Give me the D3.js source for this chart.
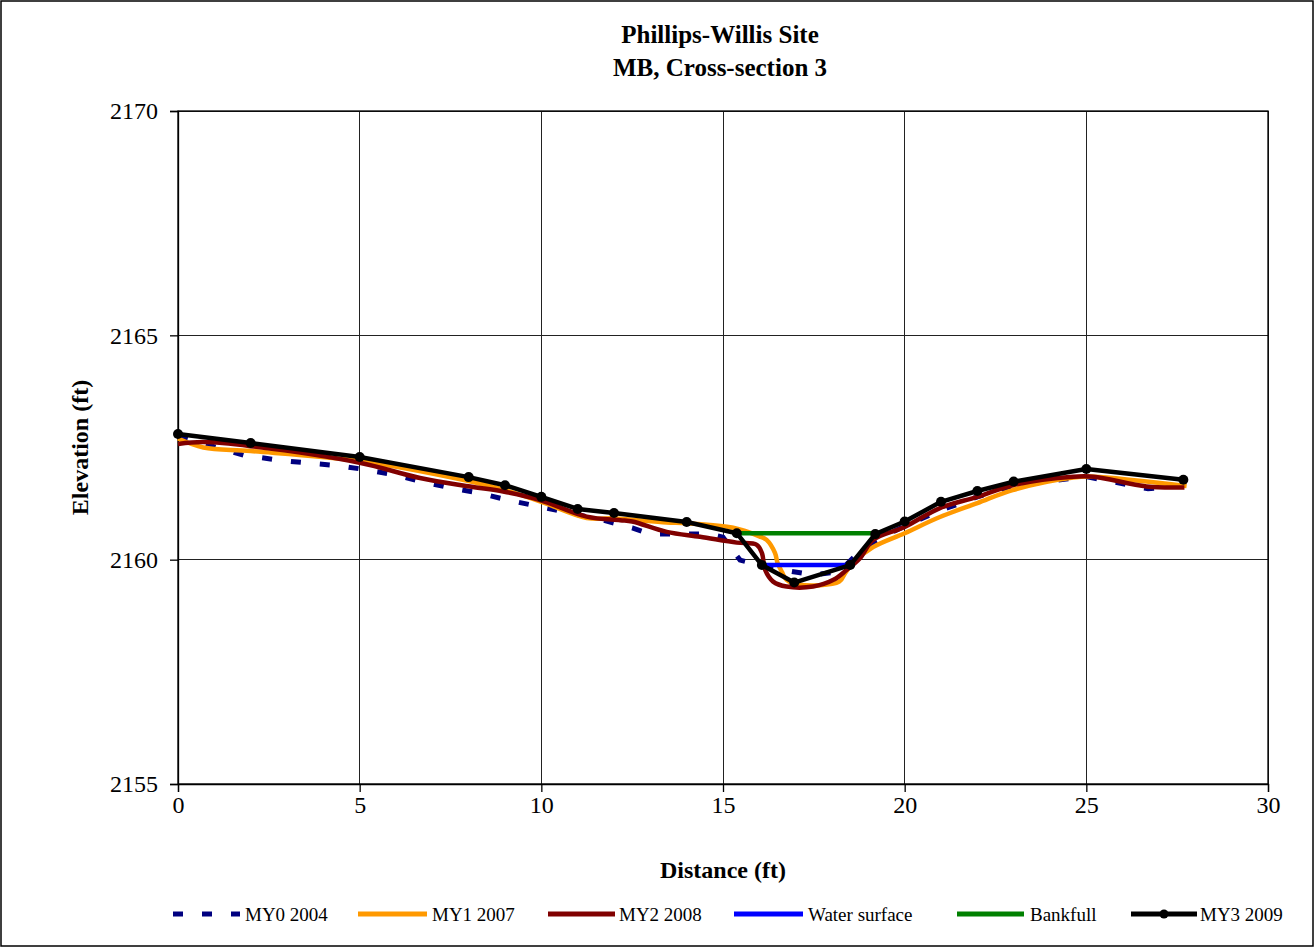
<!DOCTYPE html>
<html>
<head>
<meta charset="utf-8">
<script src="https://cdn.jsdelivr.net/npm/d3@7"></script>
<style>
  html, body { margin: 0; padding: 0; background: #fff; }
  svg { display: block; }
  text { font-family: "Liberation Serif", "Times New Roman", serif; fill: #000; }
</style>
</head>
<body>
<svg id="chart" width="1314" height="947"></svg>
<script>
// ---------- data ----------
const titleLines = ["Phillips-Willis Site", "MB, Cross-section 3"];
const xTicks = [0, 5, 10, 15, 20, 25, 30];
const yTicks = [2155, 2160, 2165, 2170];

const my0X = [0, 1.8, 2.85, 3.63, 4.46, 5.05, 5.84, 6.66, 7.49, 8.26, 9.18, 10.15, 11.7, 12.5, 13, 14.64, 15.0, 15.47, 16.0, 16.65, 17.48, 18.2, 18.85, 19.5, 20, 21, 22, 23, 25, 26.7, 27.7];
const my0Y = [2162.75, 2162.33, 2162.21, 2162.15, 2162.09, 2162.02, 2161.91, 2161.75, 2161.60, 2161.49, 2161.31, 2161.15, 2160.88, 2160.71, 2160.57, 2160.57, 2160.50, 2159.99, 2159.88, 2159.77, 2159.66, 2159.73, 2160.26, 2160.55, 2160.75, 2161.10, 2161.40, 2161.65, 2161.85, 2161.58, 2161.65];

const my1X = [0, 0.7, 2, 5, 7.84, 9, 10, 11.25, 12, 12.5, 13.45, 14, 15.28, 16.0, 16.2, 16.43, 16.5, 16.62, 16.75, 17.1, 18.2, 18.36, 18.58, 19.13, 20, 20.97, 22, 22.97, 24.64, 25.2, 27.76];
const my1Y = [2162.70, 2162.50, 2162.42, 2162.20, 2161.78, 2161.55, 2161.29, 2160.93, 2160.92, 2160.89, 2160.83, 2160.81, 2160.71, 2160.52, 2160.44, 2160.15, 2159.93, 2159.73, 2159.55, 2159.44, 2159.51, 2159.70, 2159.93, 2160.28, 2160.59, 2160.95, 2161.26, 2161.55, 2161.83, 2161.85, 2161.64];

const my2X = [0, 0.7, 2, 5, 6.66, 8.04, 8.95, 9.96, 11.25, 12.17, 12.5, 13.45, 14.37, 15.38, 15.93, 16.07, 16.16, 16.38, 16.75, 17.48, 18.04, 18.4, 18.77, 19.13, 20, 20.97, 22, 22.97, 24.64, 25.2, 26.66, 27.7];
const my2Y = [2162.58, 2162.62, 2162.53, 2162.16, 2161.82, 2161.63, 2161.52, 2161.33, 2160.96, 2160.88, 2160.85, 2160.62, 2160.51, 2160.38, 2160.33, 2160.15, 2159.77, 2159.51, 2159.40, 2159.40, 2159.55, 2159.77, 2160.03, 2160.44, 2160.73, 2161.15, 2161.40, 2161.66, 2161.85, 2161.85, 2161.63, 2161.61];

const waterX = [16.1, 18.44];
const waterY = [2159.88, 2159.88];

const bankX = [15.38, 19.19];
const bankY = [2160.59, 2160.59];

const my3X = [0, 2, 5, 8, 9, 10, 11, 12, 14, 15.38, 16.07, 16.96, 18.5, 19.19, 20, 21, 22, 23, 25, 27.67];
const my3Y = [2162.80, 2162.60, 2162.29, 2161.84, 2161.66, 2161.40, 2161.13, 2161.04, 2160.84, 2160.59, 2159.88, 2159.49, 2159.88, 2160.57, 2160.85, 2161.29, 2161.53, 2161.74, 2162.02, 2161.78];

const seriesNames = ["MY0 2004", "MY1 2007", "MY2 2008", "Water surface", "Bankfull", "MY3 2009"];

// ---------- layout ----------
const W = 1314, H = 947;
const plot = { left: 178, right: 1268, top: 111, bottom: 784 };

const svg = d3.select("#chart");
const x = d3.scaleLinear().domain([0, 30]).range([plot.left, plot.right]);
const y = d3.scaleLinear().domain([2155, 2170]).range([plot.bottom, plot.top]);

// outer border
svg.append("rect").attr("x", 1).attr("y", 1).attr("width", W - 2).attr("height", H - 2)
  .attr("fill", "#fff").attr("stroke", "#000").attr("stroke-width", 1.5);

// title
svg.selectAll("text.title").data(titleLines).join("text")
  .attr("class", "title")
  .attr("x", 720).attr("y", (d, i) => 43 + i * 33)
  .attr("text-anchor", "middle").attr("font-size", 25).attr("font-weight", "bold")
  .text(d => d);

// gridlines
const g = svg.append("g");
g.selectAll("line.vg").data(xTicks).join("line")
  .attr("x1", d => x(d)).attr("x2", d => x(d))
  .attr("y1", plot.top).attr("y2", plot.bottom)
  .attr("stroke", "#222").attr("stroke-width", 1).attr("shape-rendering", "crispEdges");
g.selectAll("line.hg").data(yTicks).join("line")
  .attr("x1", plot.left).attr("x2", plot.right)
  .attr("y1", d => y(d)).attr("y2", d => y(d))
  .attr("stroke", "#222").attr("stroke-width", 1).attr("shape-rendering", "crispEdges");

// plot border
svg.append("rect").attr("x", plot.left).attr("y", plot.top)
  .attr("width", plot.right - plot.left).attr("height", plot.bottom - plot.top)
  .attr("fill", "none").attr("stroke", "#000").attr("stroke-width", 1.3);

// axes
const xAxis = d3.axisBottom(x).tickValues(xTicks).tickSize(8).tickPadding(4).tickFormat(d3.format("d"));
const yAxis = d3.axisLeft(y).tickValues(yTicks).tickSize(8).tickPadding(12).tickFormat(d3.format("d"));
const xa = svg.append("g").attr("transform", `translate(0,${plot.bottom})`).call(xAxis);
const ya = svg.append("g").attr("transform", `translate(${plot.left},0)`).call(yAxis);
[xa, ya].forEach(a => {
  a.select(".domain").attr("stroke", "#000").attr("stroke-width", 1.3);
  a.selectAll(".tick line").attr("stroke", "#000").attr("stroke-width", 1.3);
  a.selectAll(".tick text").attr("font-family", "Liberation Serif, Times New Roman, serif")
    .attr("font-size", 24).attr("fill", "#000");
});

// axis titles
svg.append("text").attr("x", 723).attr("y", 878).attr("text-anchor", "middle")
  .attr("font-size", 24).attr("font-weight", "bold").text("Distance (ft)");
svg.append("text").attr("transform", `translate(88,${(plot.top + plot.bottom) / 2}) rotate(-90)`)
  .attr("text-anchor", "middle").attr("font-size", 24).attr("font-weight", "bold").text("Elevation (ft)");

// series
const zip = (xs, ys) => xs.map((v, i) => [v, ys[i]]);
const lineLin = d3.line().x(d => x(d[0])).y(d => y(d[1]));
const lineSmooth = d3.line().x(d => x(d[0])).y(d => y(d[1])).curve(d3.curveCatmullRom.alpha(0.5));

const plotG = svg.append("g");
plotG.append("path").datum(zip(my0X, my0Y)).attr("d", lineLin)
  .attr("fill", "none").attr("stroke", "#000080").attr("stroke-width", 5).attr("stroke-dasharray", "10,19");
plotG.append("path").datum(zip(my1X, my1Y)).attr("d", lineSmooth)
  .attr("fill", "none").attr("stroke", "#FF9900").attr("stroke-width", 4.5).attr("stroke-linejoin", "round");
plotG.append("path").datum(zip(my2X, my2Y)).attr("d", lineSmooth)
  .attr("fill", "none").attr("stroke", "#800000").attr("stroke-width", 4.5).attr("stroke-linejoin", "round");
plotG.append("path").datum(zip(waterX, waterY)).attr("d", lineLin)
  .attr("fill", "none").attr("stroke", "#0000FF").attr("stroke-width", 4.5);
plotG.append("path").datum(zip(bankX, bankY)).attr("d", lineLin)
  .attr("fill", "none").attr("stroke", "#008000").attr("stroke-width", 4.5);
plotG.append("path").datum(zip(my3X, my3Y)).attr("d", lineLin)
  .attr("fill", "none").attr("stroke", "#000").attr("stroke-width", 4.5).attr("stroke-linejoin", "round");
plotG.selectAll("circle.m3").data(zip(my3X, my3Y)).join("circle")
  .attr("cx", d => x(d[0])).attr("cy", d => y(d[1])).attr("r", 5).attr("fill", "#000");

// legend
const legendY = 914;
const legendItems = [
  { name: seriesNames[0], x1: 173, x2: 240, tx: 245, color: "#000080", dash: "10,19", marker: false },
  { name: seriesNames[1], x1: 358, x2: 427, tx: 432, color: "#FF9900", dash: null, marker: false },
  { name: seriesNames[2], x1: 548, x2: 615, tx: 619, color: "#800000", dash: null, marker: false },
  { name: seriesNames[3], x1: 734, x2: 803, tx: 808, color: "#0000FF", dash: null, marker: false },
  { name: seriesNames[4], x1: 957, x2: 1024, tx: 1030, color: "#008000", dash: null, marker: false },
  { name: seriesNames[5], x1: 1131, x2: 1197, tx: 1200, color: "#000", dash: null, marker: true }
];
const lg = svg.append("g");
legendItems.forEach(it => {
  lg.append("line").attr("x1", it.x1).attr("x2", it.x2).attr("y1", legendY).attr("y2", legendY)
    .attr("stroke", it.color).attr("stroke-width", 5)
    .attr("stroke-dasharray", it.dash);
  if (it.marker) {
    lg.append("circle").attr("cx", (it.x1 + it.x2) / 2).attr("cy", legendY).attr("r", 4.5).attr("fill", "#000");
  }
  lg.append("text").attr("x", it.tx).attr("y", legendY + 7).attr("font-size", 19).text(it.name);
});
</script>
</body>
</html>
